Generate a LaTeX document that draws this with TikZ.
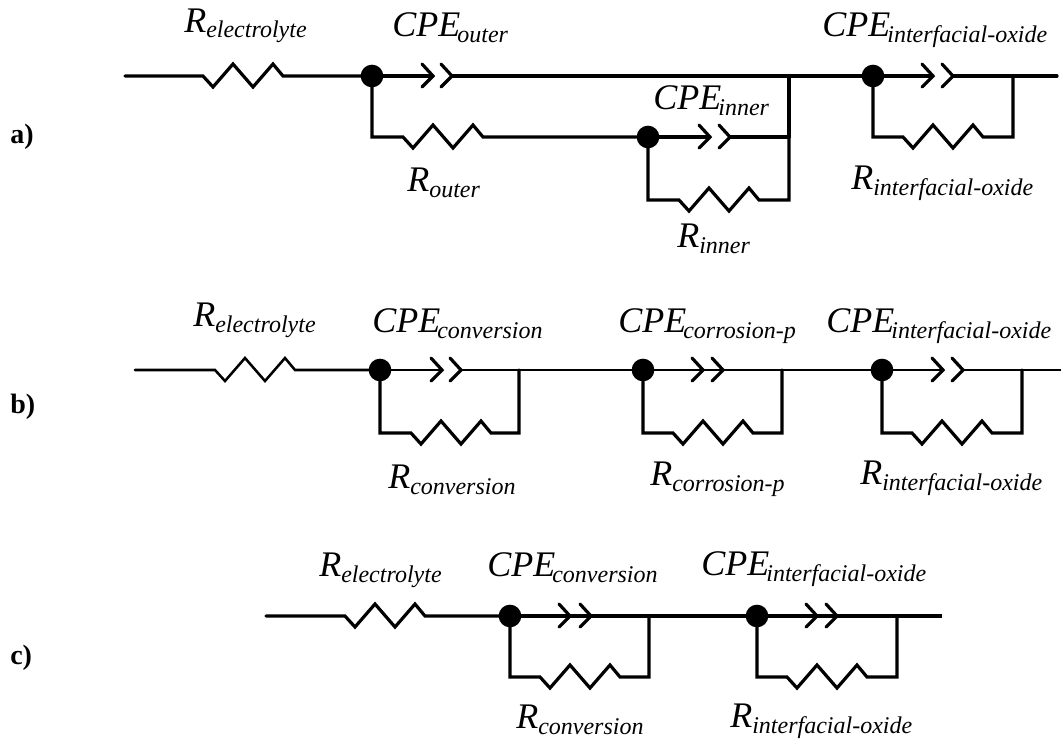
\documentclass[tikz,border=0pt]{standalone}
\usepackage{fontspec}
\setmainfont{Liberation Serif}
\newcommand\zigpath{-- ++(10,11) -- ++(20,-23) -- ++(20,23) -- ++(20,-23) -- ++(10,12)}
\newcommand\capE{CPE\kern-2.2pt}
% label: name, x, y, main, sub, drop of the subscript (pt)
\newcommand\lbl[6]{\node[lab] (#1) at (#2,#3) {\fontsize{27}{30}\selectfont #4\raisebox{-#6pt}{\fontsize{18}{20}\selectfont #5}};}
\newcommand\chev[1]{\draw[chevline] (#1) ++(-11,-12) -- ++(11,12) -- ++(-11,11);}
% id, dot x, y, tip 1 x, tip 2 x : junction and capacitor element
\newcommand\cpe[5]{%
  \node[jdot] (#1) at (#2,#3) {};
  \coordinate (#1t) at (#4,#3);
  \coordinate (#1u) at (#5,#3);
  \draw[topwire] (#1.center) -- (#1t);
  \chev{#1t}\chev{#1u}
}
% id, y, resistor start x, right x, lower y : parallel resistor branch and closing wire
\newcommand\branch[5]{%
  \coordinate (#1r) at (#3,#5);
  \coordinate (#1e) at (#4,#2);
  \draw[topwire] (#1u) -- (#1e);
  \draw[wire] (#1.center) |- (#1r) \zigpath -| (#1e);
}
\tikzset{
  wire/.style={line width=2.4pt,line join=miter,line cap=round},
  chevline/.style={line width=2.4pt,line join=miter,line cap=round},
  topwire/.style={line width=2.5pt,line cap=butt},
  jdot/.style={circle,fill=black,inner sep=0pt,minimum size=17pt},
  lab/.style={anchor=base west,inner sep=0pt,font=\itshape},
  panel/.style={anchor=base west,inner sep=0pt,font=\bfseries\fontsize{21}{24}\selectfont}
}
\begin{document}
\begin{tikzpicture}[x=0.75pt,y=-0.75pt]
\useasboundingbox (0,0) rectangle (1061,744);
% ---------- a
\cpe{ao}{372}{76}{433}{452}
\cpe{ai}{648}{137}{710}{730}
\cpe{af}{873}{76}{933}{953}
\coordinate (as) at (125,76);
\coordinate (ar) at (203,76);
\draw[wire] (as) -- (ar) \zigpath -- (ao.center);
\draw[topwire] (aou) -- (af.center);
\coordinate (aor) at (403,137);
\draw[wire] (ao.center) |- (aor) \zigpath -- (ai.center);
\branch{ai}{137}{679}{789}{200}
\coordinate (aj) at (789,76);
\draw[wire] (aj) -- (aie);
\branch{af}{76}{903}{1013}{137}
\coordinate (ax) at (1057,76);
\draw[wire] (afe) -- (ax);
\lbl{l1}{184}{32}{R}{electrolyte}{4.2}
\lbl{l2}{392}{36}{\capE}{outer}{5}
\lbl{l3}{407}{191}{R}{outer}{5}
\lbl{l4}{653}{109}{\capE}{inner}{4.5}
\lbl{l5}{822}{36}{\capE}{interfacial-oxide}{5}
\lbl{l6}{851}{189}{R}{interfacial-oxide}{4.5}
\lbl{l7}{677}{247}{R}{inner}{4.5}
\node[panel] (pa) at (10,143) {a)};
% ---------- b
\begin{scope}[topwire/.style={line width=1.9pt,line cap=butt}]
\cpe{bc}{380}{370}{442}{461}
\cpe{bp}{643}{370}{703}{723}
\cpe{bf}{882}{370}{943}{963}
\coordinate (bs) at (135,370);
\coordinate (br) at (215,370);
\draw[topwire,line cap=round] (bs) -- (br) \zigpath -- (bc.center);
\branch{bc}{370}{411}{519}{433}
\branch{bp}{370}{673}{782}{433}
\branch{bf}{370}{912}{1022}{433}
\draw[topwire] (bpt) -- (bpu);
\draw[topwire] (bce) -- (bp.center);
\draw[topwire] (bpe) -- (bf.center);
\coordinate (bx) at (1061,370);
\draw[topwire] (bfe) -- (bx);
\end{scope}
\lbl{l8}{193}{326}{R}{electrolyte}{5}
\lbl{l9}{372}{332}{\capE}{conversion}{5}
\lbl{l10}{388}{488}{R}{conversion}{4.5}
\lbl{l11}{618}{332}{\capE}{corrosion-p}{5}
\lbl{l12}{650}{485}{R}{corrosion-p}{5}
\lbl{l13}{826}{332}{\capE}{interfacial-oxide}{5}
\lbl{l14}{860}{484}{R}{interfacial-oxide}{4.5}
\node[panel] (pb) at (10,413) {b)};
% ---------- c
\cpe{cc}{510}{616}{570}{591}
\cpe{cf}{757}{616}{817}{837}
\coordinate (cs) at (266,616);
\coordinate (cr) at (345,616);
\draw[wire] (cs) -- (cr) \zigpath -- (cc.center);
\branch{cc}{616}{540}{649}{677}
\branch{cf}{616}{787}{897}{677}
\draw[topwire] (cct) -- (ccu);
\draw[topwire] (cft) -- (cfu);
\draw[topwire] (cce) -- (cf.center);
\coordinate (cx) at (942,616);
\draw[topwire] (cfe) -- (cx);
\lbl{l15}{319}{576}{R}{electrolyte}{5}
\lbl{l16}{487}{576}{\capE}{conversion}{5}
\lbl{l17}{516}{728}{R}{conversion}{4.5}
\lbl{l18}{701}{575}{\capE}{interfacial-oxide}{5}
\lbl{l19}{730}{727}{R}{interfacial-oxide}{4.5}
\node[panel] (pc) at (10,664) {c)};
\end{tikzpicture}
\end{document}
